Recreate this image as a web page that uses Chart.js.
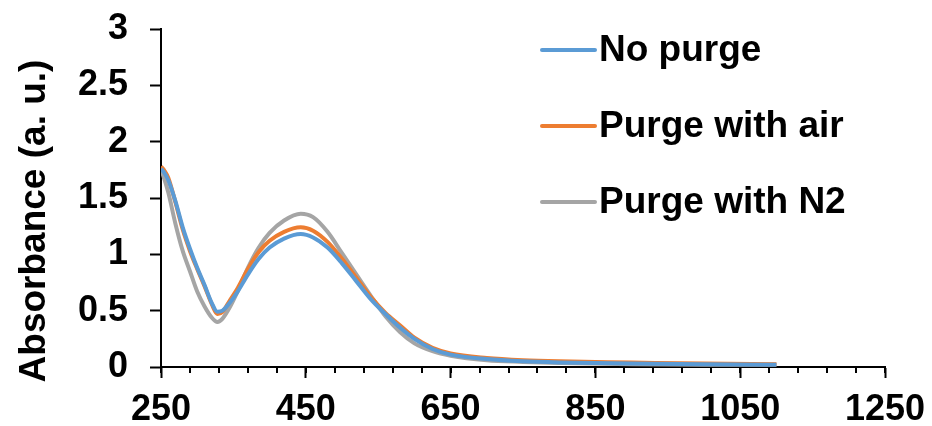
<!DOCTYPE html>
<html>
<head>
<meta charset="utf-8">
<script src="https://cdn.jsdelivr.net/npm/chart.js@4/dist/chart.umd.min.js"></script>
<style>
  html, body { margin: 0; padding: 0; background: #fff; }
  #wrap { width: 932px; height: 426px; }
</style>
</head>
<body>
<div id="wrap"><canvas id="absChart" width="932" height="426"></canvas></div>
<script>
// wavelengths (nm)
var wavelengths = [250, 255, 260, 270, 280, 290, 300, 310, 320, 328, 335, 345, 355, 370, 385, 400, 420, 443, 460, 480, 500, 520, 540, 560, 580, 600, 625, 650, 700, 750, 800, 900, 1000, 1100];

// absorbance for each sample
var noPurge = [1.76, 1.72, 1.66, 1.47, 1.24, 1.05, 0.88, 0.73, 0.57, 0.49, 0.50, 0.57, 0.66, 0.82, 0.96, 1.06, 1.14, 1.18, 1.15, 1.06, 0.92, 0.76, 0.60, 0.47, 0.35, 0.25, 0.16, 0.11, 0.07, 0.05, 0.04, 0.03, 0.025, 0.02];
var purgeAir = [1.78, 1.74, 1.68, 1.46, 1.22, 1.03, 0.87, 0.72, 0.56, 0.47, 0.49, 0.59, 0.69, 0.87, 1.02, 1.12, 1.20, 1.24, 1.21, 1.11, 0.96, 0.79, 0.62, 0.48, 0.37, 0.26, 0.17, 0.12, 0.08, 0.06, 0.05, 0.04, 0.03, 0.025];
var purgeN2 = [1.76, 1.66, 1.55, 1.27, 1.03, 0.85, 0.67, 0.54, 0.44, 0.40, 0.43, 0.53, 0.66, 0.88, 1.06, 1.19, 1.30, 1.36, 1.33, 1.20, 1.01, 0.82, 0.63, 0.45, 0.31, 0.21, 0.14, 0.10, 0.06, 0.045, 0.035, 0.025, 0.02, 0.02];

var seriesNames = ['No purge', 'Purge with air', 'Purge with N2'];
var seriesColors = ['#5B9BD5', '#ED7D31', '#A5A5A5'];

// axis ticks
var xTicks = [250, 450, 650, 850, 1050, 1250];
var xMinorStep = 40;
var yTicks = [0, 0.5, 1, 1.5, 2, 2.5, 3];
var yTitle = 'Absorbance (a. u.)';

function toPoints(values) {
    return wavelengths.map(function(w, i) { return { x: w, y: values[i] }; });
}

var FONT = '"Liberation Sans", Arial, sans-serif';

// minor ticks, y title and the legend inside the plot
var extrasPlugin = {
    id: 'extras',
    afterDraw: function(chart) {
        var ctx = chart.ctx;
        var xs = chart.scales.x;
        var area = chart.chartArea;
        ctx.save();

        // minor ticks on x
        ctx.strokeStyle = '#000';
        ctx.lineWidth = 2;
        for (var v = xs.min; v <= xs.max; v += xMinorStep) {
            var px = Math.round(xs.getPixelForValue(v));
            ctx.beginPath();
            ctx.moveTo(px, area.bottom);
            ctx.lineTo(px, area.bottom + 6);
            ctx.stroke();
        }

        // y title
        ctx.translate(35, 221);
        ctx.rotate(-Math.PI / 2);
        ctx.fillStyle = '#000';
        ctx.font = 'bold 37px ' + FONT;
        ctx.textAlign = 'center';
        ctx.textBaseline = 'middle';
        ctx.fillText(yTitle, 0, 0);
        ctx.restore();

        // legend
        ctx.save();
        ctx.font = 'bold 37px ' + FONT;
        ctx.textBaseline = 'middle';
        ctx.textAlign = 'left';
        var rows = [50, 126, 202];
        seriesNames.forEach(function(name, i) {
            ctx.strokeStyle = seriesColors[i];
            ctx.lineWidth = 4;
            ctx.lineCap = 'round';
            ctx.beginPath();
            ctx.moveTo(542, rows[i]);
            ctx.lineTo(595, rows[i]);
            ctx.stroke();
            ctx.fillStyle = '#000';
            ctx.fillText(name, 599, rows[i] + 1);
        });
        ctx.restore();
    }
};

var datasets = [noPurge, purgeAir, purgeN2].map(function(vals, i) {
    return {
        label: seriesNames[i],
        data: toPoints(vals),
        borderColor: seriesColors[i],
        backgroundColor: seriesColors[i],
        borderWidth: 4,
        pointRadius: 0,
        cubicInterpolationMode: 'monotone',
        fill: false
    };
});

new Chart(document.getElementById('absChart').getContext('2d'), {
    type: 'line',
    data: { datasets: datasets },
    options: {
        responsive: false,
        animation: false,
        layout: { padding: { left: 0, top: 29, right: 47, bottom: 0 } },
        plugins: {
            legend: { display: false },
            tooltip: { enabled: false }
        },
        scales: {
            x: {
                type: 'linear',
                min: 250,
                max: 1250,
                afterBuildTicks: function(scale) {
                    scale.ticks = xTicks.map(function(v) { return { value: v }; });
                },
                afterFit: function(scale) {
                    scale.height = 59;
                    scale.paddingLeft = 0;
                    scale.paddingRight = 0;
                },
                grid: { drawOnChartArea: false, tickLength: 11, tickColor: '#000', tickWidth: 2 },
                border: { color: '#000', width: 2 },
                ticks: {
                    color: '#000',
                    font: { family: FONT, size: 36, weight: 'bold' },
                    padding: 10,
                    maxRotation: 0,
                    autoSkip: false,
                    callback: function(v) { return String(v); }
                }
            },
            y: {
                min: 0,
                max: 3,
                afterBuildTicks: function(scale) {
                    scale.ticks = yTicks.map(function(v) { return { value: v }; });
                },
                afterFit: function(scale) {
                    scale.width = 161;
                    scale.paddingTop = 0;
                    scale.paddingBottom = 0;
                },
                grid: { drawOnChartArea: false, tickLength: 11, tickColor: '#000', tickWidth: 2 },
                border: { color: '#000', width: 2 },
                ticks: {
                    color: '#000',
                    font: { family: FONT, size: 36, weight: 'bold' },
                    padding: 22,
                    callback: function(v) { return String(v); }
                }
            }
        }
    },
    plugins: [extrasPlugin]
});
</script>
</body>
</html>
